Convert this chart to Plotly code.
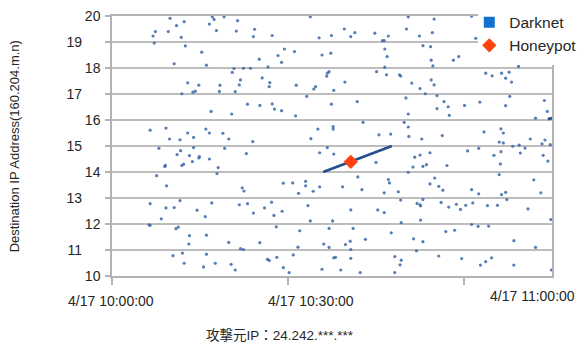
import plotly.graph_objects as go
import pandas as pd

# ---------------- data ----------------
base_time = "2012-04-17 10:00:00"

# (minutes after 10:00:00, destination address m + n/256)
darknet_points = [
    (9.9, 19.91), (17.1, 19.97), (17.4, 19.87), (19.1, 19.97), (11.0, 19.63), (12.3, 19.78),
    (16.6, 19.69), (21.4, 19.82), (7.4, 19.40), (9.6, 19.40), (7.0, 19.23), (11.8, 19.18),
    (17.8, 19.44), (21.2, 19.42), (24.3, 19.49), (24.1, 19.21), (27.3, 19.25), (33.8, 19.97),
    (35.3, 19.16), (37.4, 19.25), (7.2, 18.96), (12.5, 18.85), (15.3, 18.61), (10.6, 18.16),
    (16.1, 18.11), (25.1, 18.34), (26.6, 18.04), (28.9, 18.22), (28.3, 18.48), (29.4, 18.73),
    (31.1, 18.63), (35.8, 18.50), (37.3, 18.57), (20.8, 17.98), (22.4, 17.99), (23.6, 17.99),
    (20.5, 17.83), (25.6, 17.62), (21.9, 17.54), (21.7, 17.35), (12.9, 17.43), (14.8, 17.34),
    (18.4, 17.34), (14.2, 17.11), (13.8, 17.07), (18.3, 17.10), (21.0, 17.09), (11.9, 17.01),
    (26.9, 17.44), (26.8, 17.28), (31.4, 17.34), (34.4, 17.19), (34.7, 17.28), (37.0, 17.86),
    (36.7, 17.80), (36.6, 17.69), (37.8, 17.14), (33.2, 16.91), (23.1, 16.61), (25.2, 16.56),
    (27.3, 16.62), (27.7, 16.42), (28.9, 16.36), (16.9, 16.33), (20.4, 16.23), (31.3, 16.16),
    (37.4, 16.61), (6.5, 15.61), (9.2, 15.69), (9.8, 15.27), (11.6, 15.24), (12.9, 15.50),
    (13.9, 15.33), (16.0, 15.65), (16.6, 15.50), (18.9, 15.49), (19.9, 15.27), (24.0, 15.17),
    (33.9, 15.28), (35.1, 15.65), (37.7, 15.75), (37.7, 15.65), (8.0, 14.91), (11.7, 14.82),
    (11.1, 14.67), (13.2, 14.63), (13.9, 14.94), (14.9, 14.59), (14.8, 14.54), (16.6, 14.50),
    (13.7, 14.40), (12.2, 14.30), (11.9, 14.25), (9.1, 14.26), (9.0, 14.21), (19.2, 14.91),
    (22.9, 14.71), (18.1, 14.17), (35.4, 14.74), (36.7, 14.94), (7.6, 13.86), (17.9, 13.94),
    (9.3, 13.47), (22.2, 13.39), (22.5, 13.27), (29.2, 13.57), (30.8, 13.58), (33.0, 13.64),
    (33.0, 13.47), (31.8, 13.18), (34.3, 13.26), (35.4, 13.43), (11.6, 12.90), (6.5, 12.78),
    (9.2, 12.62), (10.6, 12.63), (8.4, 12.20), (14.5, 12.53), (15.9, 12.28), (17.0, 12.81),
    (21.7, 12.74), (23.1, 12.78), (24.1, 12.42), (26.0, 12.62), (27.2, 12.84), (27.6, 12.33),
    (29.0, 12.49), (33.4, 12.71), (33.8, 12.12), (37.6, 12.12), (6.3, 11.97), (6.5, 11.95),
    (11.3, 11.88), (10.9, 11.82), (13.2, 11.55), (16.1, 11.57), (13.1, 11.23), (19.9, 11.29),
    (25.2, 11.28), (28.0, 11.89), (32.0, 11.74), (37.0, 11.83), (36.1, 11.23), (37.0, 11.10),
    (31.7, 11.11), (21.9, 11.05), (22.4, 11.02), (10.4, 10.78), (12.0, 10.88), (12.3, 10.49),
    (16.1, 10.84), (15.6, 10.35), (17.6, 10.49), (20.3, 10.45), (21.0, 10.23), (26.5, 10.64),
    (26.8, 10.60), (28.1, 10.72), (29.2, 10.32), (30.2, 10.13), (30.9, 10.81), (35.8, 10.26),
    (37.8, 10.70),
    (50.5, 19.97), (61.3, 19.99), (39.6, 19.50), (41.4, 19.36), (40.7, 19.21), (44.8, 19.34),
    (47.1, 19.23), (46.1, 19.05), (46.4, 19.05), (50.2, 19.50), (52.4, 19.23), (54.6, 19.36),
    (54.9, 19.88), (62.0, 19.14), (46.5, 18.73), (46.9, 18.44), (53.0, 18.86), (54.3, 18.82),
    (54.4, 18.30), (58.2, 18.30), (59.1, 18.44), (54.7, 18.08), (46.5, 18.03), (69.3, 18.06),
    (45.1, 17.86), (46.8, 17.74), (49.0, 17.74), (49.2, 17.69), (39.7, 17.46), (51.1, 17.42),
    (52.5, 17.21), (54.4, 17.54), (54.9, 17.35), (63.7, 17.80), (64.8, 17.70), (66.4, 17.80),
    (67.1, 17.61), (67.7, 17.84), (68.1, 17.46), (53.4, 17.01), (41.8, 16.71), (50.1, 16.85),
    (50.5, 16.23), (55.4, 16.94), (55.4, 16.44), (56.6, 16.71), (57.3, 16.51), (57.5, 16.18),
    (60.1, 16.56), (62.7, 16.69), (67.1, 16.55), (67.8, 16.91), (73.7, 16.75), (74.2, 16.33),
    (72.2, 16.07), (42.8, 15.91), (49.8, 15.91), (50.5, 15.73), (45.5, 15.43), (47.5, 15.46),
    (50.6, 15.37), (52.8, 15.27), (56.3, 15.40), (63.4, 15.54), (66.3, 15.66), (66.7, 15.50),
    (66.0, 15.15), (66.7, 15.12), (68.3, 14.99), (69.4, 15.03), (70.4, 14.92), (71.3, 15.27),
    (73.8, 15.23), (73.3, 15.08), (74.7, 15.05), (37.8, 14.69), (45.0, 14.37), (51.3, 14.19),
    (51.6, 14.57), (52.5, 14.65), (53.0, 14.22), (53.6, 14.28), (54.2, 14.74), (57.1, 14.25),
    (60.6, 14.81), (62.5, 14.91), (65.1, 14.64), (66.3, 14.78), (66.2, 14.31), (69.6, 14.73),
    (73.5, 14.64), (74.3, 14.42), (50.5, 13.99), (39.3, 13.43), (41.9, 13.81), (42.6, 13.32),
    (47.1, 13.71), (47.3, 13.58), (46.4, 13.20), (48.8, 13.24), (54.2, 13.54), (55.0, 13.77),
    (55.7, 13.45), (56.4, 13.30), (61.3, 13.32), (62.5, 13.16), (66.0, 13.90), (66.4, 13.13),
    (67.1, 13.22), (71.9, 13.70), (73.1, 13.20), (40.7, 12.54), (45.3, 12.54), (46.4, 12.44),
    (49.2, 12.92), (49.3, 12.05), (52.0, 12.79), (52.5, 12.74), (52.6, 12.70), (53.0, 12.94),
    (52.6, 12.15), (56.1, 12.83), (57.4, 12.65), (58.7, 12.76), (59.4, 12.56), (60.3, 12.72),
    (61.5, 12.81), (64.0, 12.71), (65.7, 12.72), (67.3, 12.94), (70.9, 12.58), (74.8, 12.17),
    (41.1, 11.83), (43.2, 11.41), (40.6, 11.34), (39.8, 11.21), (40.7, 11.02), (47.6, 11.66),
    (51.4, 11.43), (53.0, 11.32), (56.9, 11.71), (58.4, 11.76), (61.3, 11.98), (62.4, 11.91),
    (64.2, 11.92), (68.5, 11.36), (72.2, 11.10), (38.1, 10.72), (40.7, 10.68), (39.0, 10.23),
    (42.3, 10.13), (48.2, 10.75), (49.3, 10.61), (49.1, 10.43), (48.2, 10.13), (51.9, 10.97),
    (55.7, 10.77), (59.6, 10.67), (62.8, 10.42), (63.7, 10.55), (64.7, 10.70), (68.5, 10.42),
    (74.9, 10.23),
]

# sequential scans (start / end of each run)
scan_runs = [
    [(36.0, 14.00), (47.7, 15.00)],
    [(74.3, 16.03), (75.3, 16.09)],
]

honeypot_minutes = [40.7]
honeypot_ip = [14.39]

x_range_minutes = [0, 75]
x_tick_minutes = [0, 30, 60]
x_tick_labels = ["4/17 10:00:00", "4/17 10:30:00", "4/17 11:00:00"]
y_ticks = list(range(10, 21))
y_title = "Destination IP Address(160.204.m.n)"
caption = "攻撃元IP：24.242.***.***"

# ---------------- build ----------------
base = pd.Timestamp(base_time)


def to_time(m):
    return base + pd.Timedelta(minutes=m)


dk_x = [to_time(m) for m, _ in darknet_points]
dk_y = [ip for _, ip in darknet_points]

scan_x, scan_y = [], []
for run in scan_runs:
    for m, ip in run:
        scan_x.append(to_time(m))
        scan_y.append(ip)
    scan_x.append(None)
    scan_y.append(None)

FONT = "Liberation Sans, Arial, Noto Sans CJK JP, sans-serif"
TXT = "#262626"
GRID = "#bdbdbd"
DOT = "#3b67a6"

fig = go.Figure()
fig.add_trace(go.Scatter(
    x=dk_x, y=dk_y, mode="markers", name="Darknet", legendgroup="dk",
    showlegend=False,
    marker=dict(size=3.2, color=DOT, opacity=0.85, line=dict(width=0)),
))
fig.add_trace(go.Scatter(
    x=scan_x, y=scan_y, mode="lines", name="Darknet", legendgroup="dk",
    showlegend=False, line=dict(color="#24508f", width=2.8), connectgaps=False,
))
# legend swatch for Darknet
fig.add_trace(go.Scatter(
    x=[None], y=[None], mode="markers", name="Darknet", legendgroup="dk",
    marker=dict(symbol="square", size=11, color="#1170c9"),
))
fig.add_trace(go.Scatter(
    x=[to_time(m) for m in honeypot_minutes], y=honeypot_ip, mode="markers",
    name="Honeypot", yaxis="y2",
    marker=dict(symbol="diamond", size=11, color="#ff420e", line=dict(width=0)),
))

even_text = [str(v) if v % 2 == 0 else "" for v in y_ticks]
odd_vals = [v for v in y_ticks if v % 2 == 1]

fig.update_layout(
    width=579, height=348,
    margin=dict(l=112, r=27, t=16, b=72, autoexpand=False),
    paper_bgcolor="white", plot_bgcolor="white",
    font=dict(family=FONT, color=TXT, size=14),
    showlegend=True,
    legend=dict(
        x=0.812, y=1.04, xanchor="left", yanchor="top",
        bgcolor="rgba(0,0,0,0)", font=dict(size=15.5, color=TXT, family=FONT),
        tracegroupgap=0,
    ),
    xaxis=dict(
        type="date",
        range=[to_time(x_range_minutes[0]), to_time(x_range_minutes[1])],
        tickvals=[to_time(m) for m in x_tick_minutes],
        showticklabels=False,
        ticks="outside", ticklen=7, tickcolor="#b3b3b3", tickwidth=1.5,
        showline=True, linecolor="#b3b3b3", linewidth=1.5, mirror=True,
        showgrid=False, zeroline=False,
    ),
    yaxis=dict(
        range=[10, 20], tickvals=y_ticks, ticktext=even_text,
        ticks="outside", ticklen=5, tickcolor="#b3b3b3", tickwidth=1.5,
        showgrid=True, gridcolor=GRID, gridwidth=1.6,
        showline=True, linecolor="#b3b3b3", linewidth=1.5, mirror=True,
        zeroline=False, tickfont=dict(size=14, color=TXT),
        ticklabelstandoff=2,
    ),
    yaxis2=dict(
        range=[10, 20], overlaying="y", side="left", anchor="x",
        tickvals=odd_vals, ticktext=[str(v) for v in odd_vals],
        ticks="", showgrid=False, showline=False, zeroline=False,
        tickfont=dict(size=14, color=TXT), ticklabelstandoff=29,
    ),
)

# white box behind the legend (covers the top-right of the frame as in the original)
fig.add_shape(type="rect", xref="paper", yref="paper",
              x0=0.832, x1=1.07, y0=0.812, y1=1.07,
              fillcolor="white", line=dict(width=0), layer="above")

# axis title and tick labels / caption as text
fig.add_annotation(text=y_title, xref="paper", yref="paper", x=-0.222, y=0.5,
                   textangle=-90, showarrow=False, font=dict(size=13, color=TXT),
                   xanchor="center", yanchor="middle")
label_pos = [(-0.002, -0.096), (0.452, -0.096), (0.956, -0.078)]
for (px, py), lab in zip(label_pos, x_tick_labels):
    fig.add_annotation(text=lab, xref="paper", yref="paper", x=px, y=py,
                       showarrow=False, font=dict(size=14, color=TXT),
                       xanchor="center", yanchor="middle")
fig.add_annotation(text=caption, xref="paper", yref="paper", x=0.382, y=-0.227,
                   showarrow=False, font=dict(size=13.5, color=TXT),
                   xanchor="center", yanchor="middle")

fig.write_html("out.html", config={"displayModeBar": False},
               post_script="document.body.style.margin='0';")
